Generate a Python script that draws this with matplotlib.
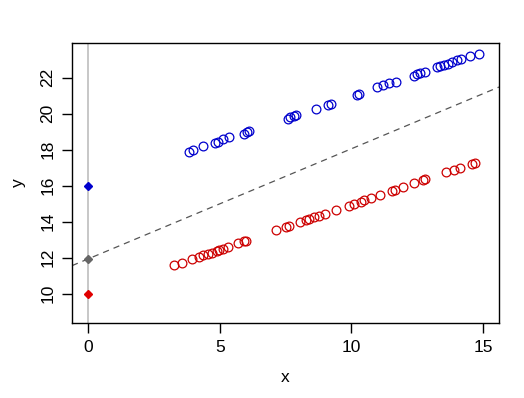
import matplotlib
matplotlib.use("Agg")
import matplotlib.pyplot as plt

# upper group (blue)
blue_x = [3.85, 4.00, 4.38, 4.83, 4.92, 5.14, 5.37, 5.93, 6.03, 6.12,
          7.58, 7.68, 7.81, 7.91, 8.67, 9.10, 9.23, 10.22, 10.28,
          10.98, 11.22, 11.45, 11.68, 12.37, 12.50, 12.62, 12.79,
          13.26, 13.38, 13.51, 13.66, 13.83, 14.02, 14.17, 14.52, 14.84]
blue_y = [17.88, 17.96, 18.21, 18.37, 18.44, 18.61, 18.68, 18.89, 18.96, 19.02,
          19.71, 19.79, 19.89, 19.94, 20.26, 20.46, 20.56, 21.02, 21.07,
          21.46, 21.58, 21.68, 21.76, 22.11, 22.18, 22.26, 22.33,
          22.59, 22.67, 22.71, 22.78, 22.85, 22.96, 23.04, 23.18, 23.32]

# lower group (red)
red_x = [3.28, 3.56, 3.94, 4.23, 4.36, 4.54, 4.70, 4.89, 4.99, 5.12, 5.33,
         5.69, 5.94, 6.00, 7.14, 7.52, 7.64, 8.06, 8.28, 8.40, 8.60, 8.77,
         9.01, 9.43, 9.90, 10.09, 10.38, 10.47, 10.75, 11.10, 11.53, 11.67,
         11.97, 12.40, 12.73, 12.81, 13.61, 13.89, 14.12, 14.59, 14.69]
red_y = [11.59, 11.68, 11.94, 12.04, 12.13, 12.21, 12.26, 12.35, 12.43, 12.48, 12.57,
         12.79, 12.91, 12.94, 13.54, 13.69, 13.78, 14.00, 14.11, 14.17, 14.26, 14.33,
         14.44, 14.67, 14.89, 15.00, 15.11, 15.18, 15.32, 15.50, 15.68, 15.78,
         15.91, 16.17, 16.29, 16.37, 16.76, 16.89, 16.98, 17.22, 17.26]

# intercepts marked at x = 0
icpt_y = [16.0, 11.93, 10.0]
icpt_col = ["#0000cd", "#666666", "#e00000"]

# dashed reference line
line_a = 11.93
line_b = 0.612

plt.rcParams['font.family'] = ['Liberation Sans', 'DejaVu Sans']

fig = plt.figure(figsize=(5.24, 3.98), dpi=100)
ax = fig.add_axes([72 / 524, 1 - 323 / 398, 427 / 524, 280 / 398])

ax.axvline(0, color="#bebebe", lw=1.2, zorder=1)
ax.axline((0, line_a), slope=line_b, color="#555555", lw=0.9,
          ls=(0, (5, 4)), zorder=2)

ax.plot(blue_x, blue_y, "o", mfc="none", mec="#0000cd", ms=6.3, mew=0.9, ls="none")
ax.plot(red_x, red_y, "o", mfc="none", mec="#cd0000", ms=6.3, mew=0.9, ls="none")
for yv, c in zip(icpt_y, icpt_col):
    ax.plot([0], [yv], "D", color=c, ms=4.2, zorder=3)

ax.set_xlim(-0.61, 15.61)
ax.set_ylim(8.37, 23.93)
ax.set_xticks([0, 5, 10, 15])
ax.set_yticks([10, 12, 14, 16, 18, 20, 22])
ax.tick_params(direction="out", length=7, width=1, labelsize=12.5, pad=5)
for lab in ax.get_yticklabels():
    lab.set_rotation(90)
    lab.set_va("center")
for s in ax.spines.values():
    s.set_linewidth(1)

fig.text(285 / 524, 1 - 378 / 398, "x", ha="center", va="center", fontsize=12.5)
fig.text(18 / 524, 1 - 183 / 398, "y", ha="center", va="center", fontsize=12.5,
         rotation=90)

fig.savefig("out.png", dpi=100)
